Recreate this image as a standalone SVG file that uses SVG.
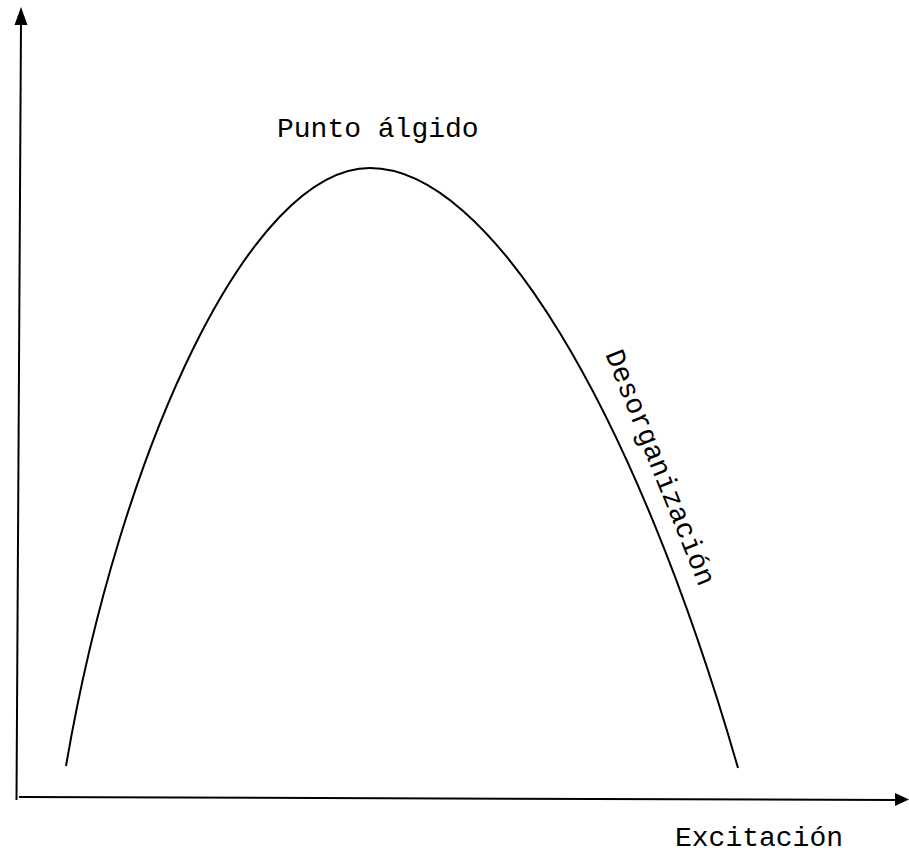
<svg xmlns="http://www.w3.org/2000/svg" width="909" height="853" viewBox="0 0 909 853">
<style>
.ax{stroke:#000;stroke-width:2;fill:none}
.crv{stroke:#000;stroke-width:2;fill:none}
.hd{fill:#000;stroke:none}
.lbl{font-family:"Liberation Mono","DejaVu Sans Mono",monospace;font-size:28px;fill:#000}
</style>
<rect width="909" height="853" fill="#fff"/>
<g id="connectors">
<line class="ax" x1="21" y1="22" x2="16.5" y2="800"/>
<polygon class="hd" points="21,7 14.5,25 27.5,25"/>
<line class="ax" x1="19" y1="797" x2="897" y2="800"/>
<polygon class="hd" points="909,799.5 895,793 895,806"/>
</g>
<g id="curve">
<path class="crv" d="M66,766 C120,450 250,168 370,168 C490,168 635,410 738,768"/>
</g>
<g id="label-punto">
<text class="lbl" x="277" y="137">Punto álgido</text>
</g>
<g id="label-desorganizacion">
<text class="lbl" x="605" y="354" transform="rotate(68 605 354)">Desorganización</text>
</g>
<g id="label-excitacion">
<text class="lbl" x="675" y="846">Excitación</text>
</g>
</svg>
